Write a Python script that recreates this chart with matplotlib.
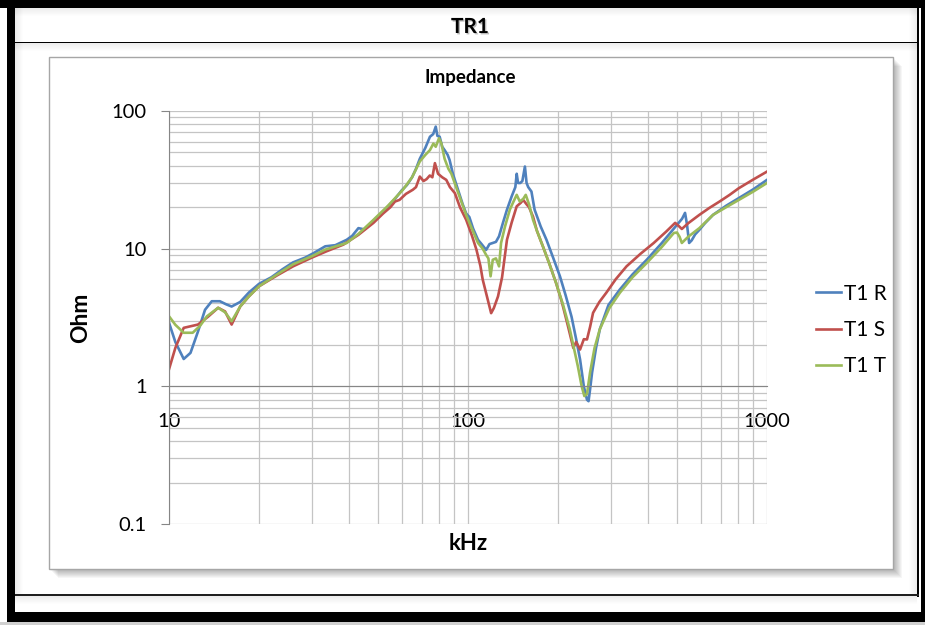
import matplotlib
matplotlib.use("Agg")
import matplotlib.pyplot as plt
import matplotlib.patheffects as pe
from matplotlib.patches import Rectangle
from matplotlib.ticker import FixedLocator, NullFormatter

plt.rcParams['font.family'] = ['Lato', 'DejaVu Sans']

# impedance sweeps, kHz vs Ohm
f_r = [10, 10.5, 11.2, 11.8, 12.5, 13.2, 13.9, 14.8, 15.5, 16.2, 17.3, 18.5, 20, 22, 24, 26,
       28.5, 30.5, 33.3, 36, 39.3, 41, 43, 45, 48, 52.8, 57, 60, 62.5, 65, 67, 69, 72, 74.6,
       76.5, 78, 79, 80.4, 82, 83.5, 85.5, 86.8, 89, 93, 96, 98.6, 101, 104, 108, 111, 115,
       118, 121, 124, 127, 131, 135, 140, 144, 145.5, 147, 149.6, 152, 155, 157, 159, 163,
       167, 175, 183, 193, 203, 212, 222, 230, 237, 244, 250, 253, 256, 260, 268, 276, 295,
       322, 355, 396, 445, 500, 520, 532, 540, 549, 560, 575, 594, 620, 660, 730, 805, 900, 1000]
z_r = [2.9, 2.1, 1.58, 1.75, 2.5, 3.6, 4.15, 4.15, 3.95, 3.8, 4.1, 4.8, 5.55, 6.2, 7.1, 7.95,
       8.6, 9.3, 10.4, 10.6, 11.6, 12.4, 14.1, 13.8, 15.8, 19.2, 23, 26.5, 29, 33, 38, 45, 54, 65,
       68, 77, 66, 65, 55, 52, 48, 44, 35, 26, 21, 18, 17, 14, 11.6, 10.8, 9.8,
       10.8, 11, 11.2, 12.3, 15.5, 19.2, 24, 28, 35, 30, 30, 31, 39.5, 30, 28, 26,
       19.2, 14.5, 11.6, 8.5, 6.3, 4.6, 3.2, 2.2, 1.57, 1.0, 0.8, 0.78, 0.95, 1.26, 1.9, 2.6, 3.9,
       5.05, 6.5, 8.3, 11, 14.9, 16.5, 18.2, 15, 11, 11.5, 12.7, 13.7, 15.3, 17.6, 20.5, 23.3, 27, 31.6]

f_s = [10, 10.5, 11.2, 12.5, 13.5, 14.6, 15.4, 16.2, 17.3, 18.5, 20, 23, 26, 30, 33.6, 38.3,
       43, 48.3, 52, 55, 57, 59, 62, 65.4, 67, 69, 71, 72.7, 74.5, 76, 77.5, 79.4, 82, 84.6,
       87, 90.4, 94, 98.6, 103, 106.7, 110, 112, 116, 119.5, 122, 126, 130, 135, 140, 145.5,
       150, 153, 157, 160, 165, 170, 178, 187, 197, 206, 216, 225, 230, 237, 244, 250, 256,
       262, 275, 290, 312, 339, 378, 418, 460, 493, 507, 519, 545, 594, 640, 694, 750, 805,
       900, 1000]
z_s = [1.33, 1.9, 2.66, 2.81, 3.2, 3.72, 3.5, 2.81, 3.8, 4.5, 5.33, 6.4, 7.44, 8.6, 9.56, 10.7,
       12.6, 15.4, 18, 20, 22, 22.6, 25, 26.8, 28, 33.4, 31, 32, 34, 33, 41.8, 35, 33, 31.6,
       28, 25.3, 20, 16.2, 12.5, 9.84, 7.5, 5.96, 4.4, 3.4, 3.7, 4.5, 6.2, 11.6, 15.5, 20.3,
       21.5, 22.6, 21, 20, 17.1, 13.5, 10.4, 7.8, 5.64, 4.1, 2.73, 1.9, 2.1, 1.85, 2.2, 2.19, 2.7,
       3.42, 4.1, 4.78, 6.0, 7.44, 9.2, 11, 13.3, 15.4, 14.6, 13.9, 15.3, 17.6, 19.7, 22, 24.6, 27.5,
       31.8, 36.3]

f_t = [10, 10.5, 11.2, 12, 12.7, 13.4, 14.6, 15.4, 16.2, 17.3, 18.5, 20, 23, 26, 30, 33.3,
       39.3, 43, 48.3, 54, 60.6, 65, 69, 72, 74.6, 76.6, 78, 80, 81.5, 83.5, 86, 88, 93, 98.6,
       103, 108, 112, 115, 117, 119, 121, 124, 127, 129, 133, 138, 142, 145.5, 149, 153, 156,
       160, 165, 170, 178, 187, 197, 208, 219, 226, 233, 240, 245, 250, 256, 265, 276, 297,
       322, 355, 396, 445, 488, 500, 510, 519, 545, 594, 660, 730, 805, 900, 1000]
z_t = [3.23, 2.8, 2.45, 2.45, 2.75, 3.23, 3.72, 3.45, 2.97, 3.8, 4.5, 5.33, 6.5, 7.7, 8.8, 9.84,
       11, 12.8, 16.2, 20.5, 26.8, 33, 43, 48, 52, 58, 55, 63.4, 58, 45, 38, 35, 25, 17.6,
       14, 11, 10, 9, 8.5, 6.3, 8.3, 8.5, 7.44, 11, 14.5, 19.2, 22, 24.6, 22, 23, 24.6,
       21, 16.2, 13.5, 10.4, 7.8, 5.64, 3.9, 2.6, 1.9, 1.4, 1.0, 0.85, 0.88, 1.26, 1.9, 2.6, 3.7,
       4.78, 6.2, 7.87, 10.3, 13, 13.1, 12.2, 11, 12.2, 14.1, 17.6, 20, 22.6, 26, 30]

series = [('T1 R', f_r, z_r, '#4F81BD'),
          ('T1 S', f_s, z_s, '#C0504D'),
          ('T1 T', f_t, z_t, '#9BBB59')]

W, H = 925, 625
fig = plt.figure(figsize=(W / 100, H / 100), dpi=100)
fig.patch.set_facecolor('white')


def box(x, y, w, h, **kw):
    # pixel box, origin top-left
    r = Rectangle((x / W, 1 - (y + h) / H), w / W, h / H, transform=fig.transFigure, **kw)
    fig.patches.append(r)
    return r


# soft shadows along the frame
for i in range(8):
    a = 0.07 * (8 - i) / 8
    box(15 + i, 8, 1, 586, facecolor='black', alpha=a, linewidth=0)
    box(15, 8 + i, 902, 1, facecolor='black', alpha=a, linewidth=0)
    box(15, 43 + i, 902, 1, facecolor='black', alpha=a, linewidth=0)
    box(15, 596 + i, 902, 1, facecolor='black', alpha=a, linewidth=0)
    box(916 - i, 8, 1, 586, facecolor='black', alpha=a, linewidth=0)

# drop shadow of the chart box
for i in range(1, 10):
    box(49 + i, 57 + i, 844, 512, facecolor='black', alpha=0.035, linewidth=0)
box(49, 57, 844, 512, facecolor='white', edgecolor='#a6a6a6', linewidth=1.0)

# outer black frame and row separators
box(0, 0, 925, 8, facecolor='black', linewidth=0)
box(7, 0, 8, 622, facecolor='black', linewidth=0)
box(921, 0, 4, 622, facecolor='black', linewidth=0)
box(917, 8, 2, 589, facecolor='black', linewidth=0)
box(7, 612, 918, 10, facecolor='black', linewidth=0)
box(15, 41.5, 904, 1.5, facecolor='black', linewidth=0)
box(15, 594, 904, 1.8, facecolor='#202020', linewidth=0)
box(0, 622, 925, 3, facecolor='#d0d0d0', linewidth=0)

fig.text(0.508, 1 - 27 / H, 'TR1', ha='center', va='center', fontsize=15, fontweight='bold',
         path_effects=[pe.withSimplePatchShadow(offset=(1, -1), shadow_rgbFace='#777777', alpha=0.5)])

ax = fig.add_axes([169 / W, 1 - 524 / H, (767 - 169) / W, (524 - 111) / H])
ax.set_zorder(5)
ax.set_facecolor('none')
for name, f, z, c in series:
    ax.plot(f, z, color=c, lw=1.9, label=name, solid_joinstyle='round')

ax.set_xscale('log')
ax.set_yscale('log')
ax.set_xlim(10, 1000)
ax.set_ylim(0.1, 100)

ax.xaxis.set_major_locator(FixedLocator([10, 100, 1000]))
ax.xaxis.set_minor_locator(FixedLocator([m * d for d in (10, 100) for m in range(2, 10)]))
ax.yaxis.set_major_locator(FixedLocator([0.1, 1, 10, 100]))
ax.yaxis.set_minor_locator(FixedLocator([m * d for d in (0.1, 1, 10) for m in range(2, 10)]))
ax.set_xticklabels(['10', '100', '1000'])
ax.set_yticklabels(['0.1', '1', '10', '100'])
ax.xaxis.set_minor_formatter(NullFormatter())
ax.yaxis.set_minor_formatter(NullFormatter())

ax.grid(True, which='both', color='#c4c4c4', lw=0.9)
ax.set_axisbelow(True)

ax.spines['bottom'].set_position(('data', 1))
ax.spines['bottom'].set_color('#868686')
ax.spines['left'].set_color('#868686')
ax.spines['top'].set_visible(False)
ax.spines['right'].set_visible(False)

ax.tick_params(axis='x', which='both', length=0, pad=19, labelsize=14.5)
ax.tick_params(axis='y', which='major', length=6, color='#868686', pad=10, labelsize=14.5)
ax.tick_params(axis='y', which='minor', length=0)

fig.text(0.508, 1 - 78 / H, 'Impedance', ha='center', va='center', fontsize=13.5, fontweight='bold')
fig.text(81 / W, 1 - 318 / H, 'Ohm', ha='center', va='center', rotation=90, fontsize=16.5,
         fontweight='bold')
fig.text(0.506, 1 - 543 / H, 'kHz', ha='center', va='center', fontsize=16, fontweight='bold')

leg = fig.legend(loc='center left', bbox_to_anchor=(808 / W, 1 - 330 / H), frameon=False, fontsize=15,
                 handlelength=1.2, handletextpad=0.12, labelspacing=0.78, borderaxespad=0)
leg.set_zorder(6)

fig.savefig('out.png', dpi=100)
